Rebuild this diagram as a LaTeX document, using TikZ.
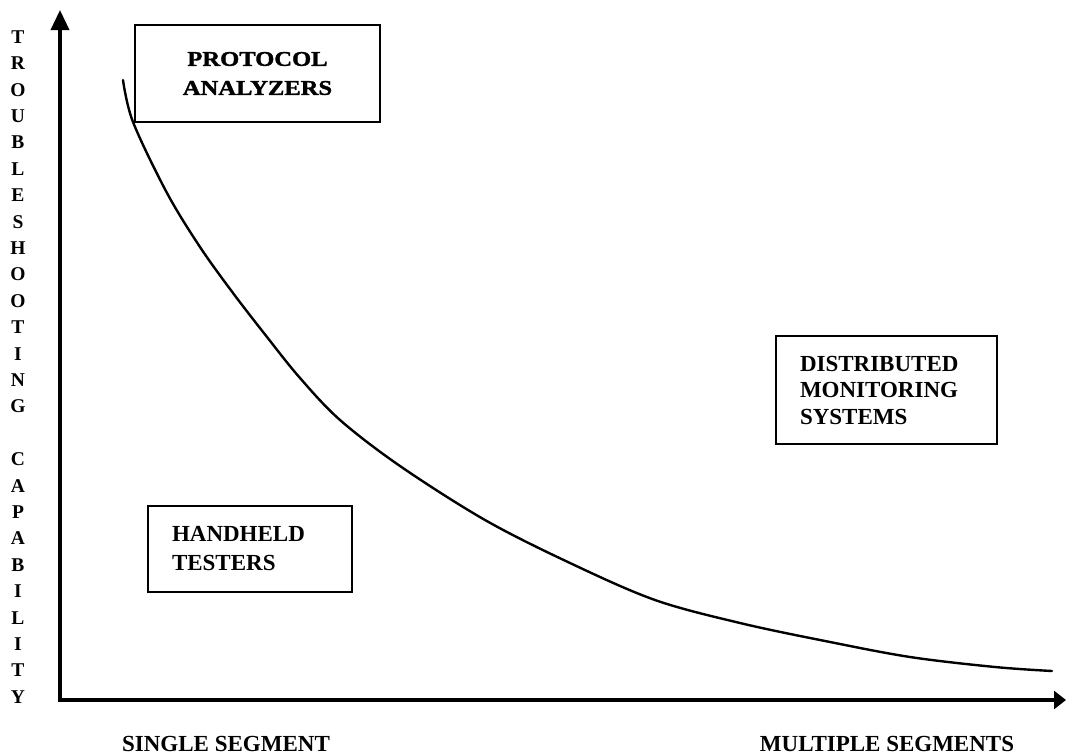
\documentclass[tikz,border=0pt]{standalone}
\usepackage{fontspec}
\setmainfont{Liberation Serif}
\newfontfamily\protfont[FakeStretch=1.17,FakeBold=1.6]{Liberation Serif}
\usetikzlibrary{arrows.meta}
\begin{document}
\begin{tikzpicture}[x=1pt,y=-1pt,
  box/.style={draw, line width=2pt, inner ysep=0pt},
  boxtext/.style={font=\bfseries\fontsize{23}{28.5}\selectfont},
  axis/.style={line width=3.5pt, line join=miter},
  curve/.style={line width=2.4pt, line cap=round},
  axlabel/.style={font=\bfseries\fontsize{23}{28}\selectfont, inner sep=0pt}]
\useasboundingbox (0,0) rectangle (1066,755);

% axes
\coordinate (O) at (60,700);
\coordinate (ytip) at (60,10);
\coordinate (xtip) at (1066,700);
\draw[axis, {Triangle[length=20pt,width=18pt]}-{Triangle[length=12pt,width=18pt]}] (ytip) -- (O) -- (xtip);

% y-axis label
\node[inner sep=0pt, align=center, font=\bfseries\fontsize{19.5}{26.4}\selectfont] (ylab) at (18,367)
  {T\\R\\O\\U\\B\\L\\E\\S\\H\\O\\O\\T\\I\\N\\G\\\mbox{}\\C\\A\\P\\A\\B\\I\\L\\I\\T\\Y};

% x-axis labels
\node[axlabel] (single) at (226,744) {SINGLE SEGMENT};
\node[axlabel] (multi) at (887,744) {MULTIPLE SEGMENTS};

% curve
\draw[curve] plot[smooth, tension=0.55] coordinates {
  (123,80) (133,122) (167,193) (200,247) (233,293) (267,337) (300,378)
  (340,420) (400,466) (485,520) (570,563) (655,600) (740,623) (825,641)
  (910,657) (995,667) (1052,671)};

% boxes
\node[box, minimum width=245pt, minimum height=97pt, align=center,
      font=\protfont\bfseries\fontsize{21}{29}\selectfont] (prot) at (257.5,73.5)
  {PROTOCOL\\ANALYZERS};
\node[box, boxtext, minimum width=204pt, minimum height=86pt, inner xsep=24pt,
      text width=156pt, align=left, font=\bfseries\fontsize{23}{29}\selectfont] (hand) at (250,549)
  {HANDHELD\\TESTERS};
\node[box, boxtext, minimum width=221pt, minimum height=108pt, inner xsep=24pt,
      text width=173pt, align=left, font=\bfseries\fontsize{23}{26.5}\selectfont] (dist) at (886.5,390)
  {DISTRIBUTED\\MONITORING\\SYSTEMS};
\end{tikzpicture}
\end{document}
